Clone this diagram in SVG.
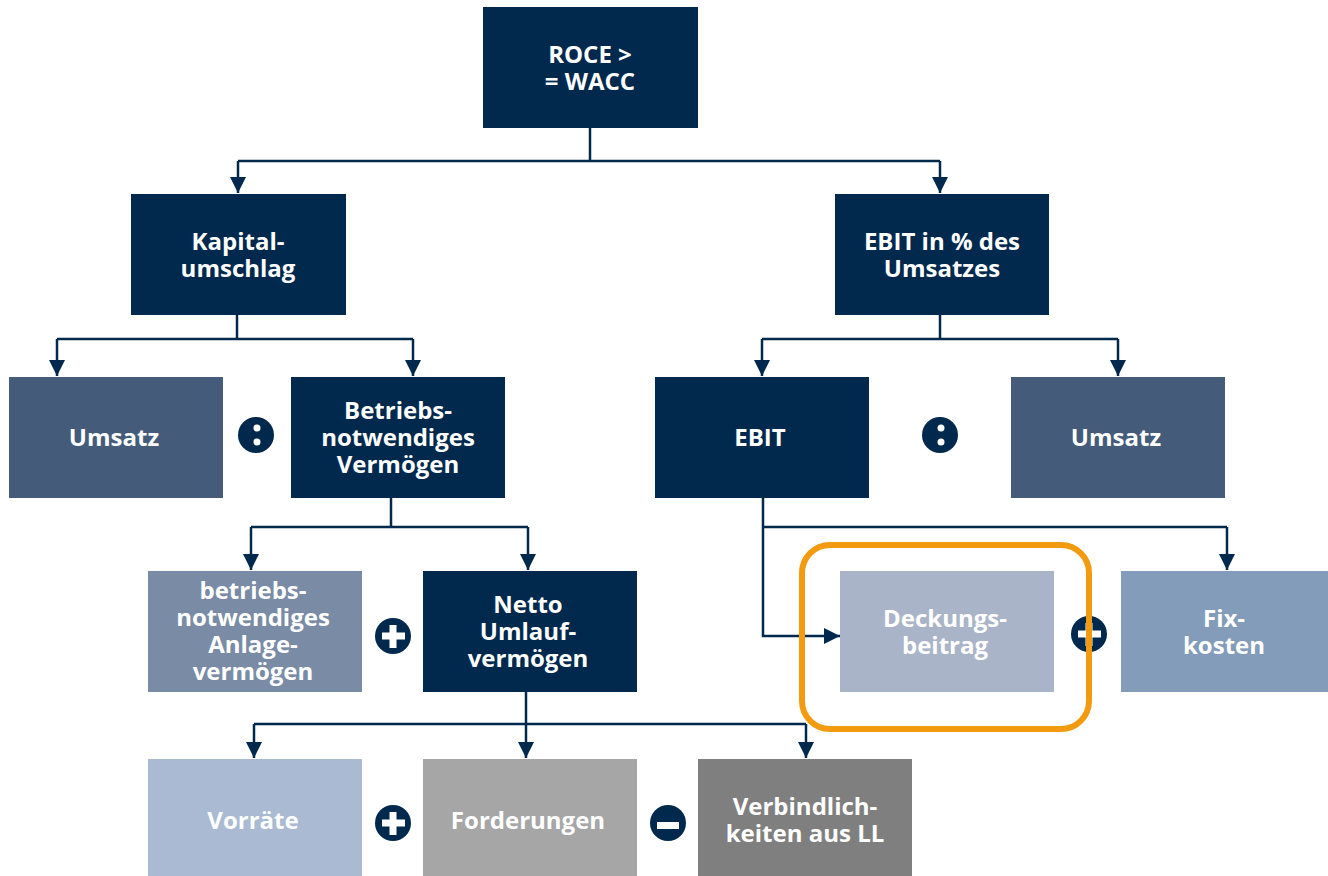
<svg xmlns="http://www.w3.org/2000/svg" width="1328" height="876" viewBox="0 0 1328 876">
<style>
.t{font-family:"Open Sans","Liberation Sans",sans-serif;font-weight:bold;font-size:24px;fill:#fff;text-anchor:middle}
.c{fill:none;stroke:#00294D;stroke-width:2.5}
.a{marker-end:url(#ah)}
.op{fill:#00294D}
.w{fill:#fff}
</style>
<defs>
<marker id="ah" markerUnits="userSpaceOnUse" markerWidth="16" markerHeight="16" refX="16" refY="8" orient="auto">
<path d="M0,0 L16,8 L0,16 z" fill="#00294D"/>
</marker>
</defs>
<rect width="1328" height="876" fill="#fff"/>
<g id="connectors">
<path class="c" d="M590,128 V161"/>
<path class="c" d="M238,161 H940"/>
<path class="c a" d="M238,161 V193"/>
<path class="c a" d="M940,161 V193"/>
<path class="c" d="M237,315 V339"/>
<path class="c" d="M57,339 H413"/>
<path class="c a" d="M57,339 V376"/>
<path class="c a" d="M413,339 V376"/>
<path class="c" d="M940,315 V339"/>
<path class="c" d="M762,339 H1118"/>
<path class="c a" d="M762,339 V376"/>
<path class="c a" d="M1118,339 V376"/>
<path class="c" d="M391,497 V527"/>
<path class="c" d="M251,527 H528"/>
<path class="c a" d="M251,527 V570"/>
<path class="c a" d="M528,527 V570"/>
<path class="c a" d="M763,497 V636 H840"/>
<path class="c" d="M763,527 H1227"/>
<path class="c a" d="M1227,527 V570"/>
<path class="c" d="M526,692 V724"/>
<path class="c" d="M254,724 H806"/>
<path class="c a" d="M254,724 V758"/>
<path class="c a" d="M526,724 V758"/>
<path class="c a" d="M806,724 V758"/>
</g>
<g id="roce"><rect x="483" y="7" width="215" height="121" fill="#00294D"/><text class="t" x="590" y="63">ROCE &gt;</text><text class="t" x="590" y="90">= WACC</text></g>
<g id="kapital"><rect x="131" y="194" width="215" height="121" fill="#00294D"/><text class="t" x="238" y="250">Kapital-</text><text class="t" x="238" y="277">umschlag</text></g>
<g id="ebitpct"><rect x="835" y="194" width="214" height="121" fill="#00294D"/><text class="t" x="942" y="250">EBIT in % des</text><text class="t" x="942" y="277">Umsatzes</text></g>
<g id="umsatz1"><rect x="9" y="377" width="214" height="121" fill="#445B7A"/><text class="t" x="114" y="446">Umsatz</text></g>
<g id="bnv"><rect x="291" y="377" width="214" height="121" fill="#00294D"/><text class="t" x="398" y="419">Betriebs-</text><text class="t" x="398" y="446">notwendiges</text><text class="t" x="398" y="473">Vermögen</text></g>
<g id="div1"><circle class="op" cx="256" cy="435" r="18"/><circle class="w" cx="257" cy="428" r="3.5"/><circle class="w" cx="257" cy="442" r="3.5"/></g>
<g id="ebit"><rect x="655" y="377" width="214" height="121" fill="#00294D"/><text class="t" x="760" y="446">EBIT</text></g>
<g id="div2"><circle class="op" cx="940" cy="435" r="18"/><circle class="w" cx="941" cy="428" r="3.5"/><circle class="w" cx="941" cy="442" r="3.5"/></g>
<g id="umsatz2"><rect x="1011" y="377" width="214" height="121" fill="#445B7A"/><text class="t" x="1116" y="446">Umsatz</text></g>
<g id="anlage"><rect x="148" y="571" width="214" height="121" fill="#7A8BA5"/><text class="t" x="253" y="599">betriebs-</text><text class="t" x="253" y="626">notwendiges</text><text class="t" x="253" y="653">Anlage-</text><text class="t" x="253" y="680">vermögen</text></g>
<g id="plus1"><circle class="op" cx="393" cy="636" r="18"/><rect class="w" x="382" y="632.5" width="23" height="7"/><rect class="w" x="389.5" y="625" width="7" height="23"/></g>
<g id="netto"><rect x="423" y="571" width="214" height="121" fill="#00294D"/><text class="t" x="528" y="613">Netto</text><text class="t" x="528" y="640">Umlauf-</text><text class="t" x="528" y="667">vermögen</text></g>
<g id="deckung"><rect x="840" y="571" width="214" height="121" fill="#A9B4C8"/><text class="t" x="945" y="627">Deckungs-</text><text class="t" x="945" y="654">beitrag</text></g>
<g id="plus2"><circle class="op" cx="1089" cy="634" r="18"/><rect class="w" x="1078" y="630.5" width="23" height="7"/><rect class="w" x="1085.5" y="623" width="7" height="23"/></g>
<g id="fix"><rect x="1121" y="571" width="207" height="121" fill="#829CBA"/><text class="t" x="1224" y="627">Fix-</text><text class="t" x="1224" y="654">kosten</text></g>
<g id="highlight"><rect x="802" y="545" width="287" height="184" rx="28" fill="none" stroke="#F29B11" stroke-width="6"/></g>
<g id="vorraete"><rect x="148" y="759" width="214" height="117" fill="#A9BAD2"/><text class="t" x="253" y="829">Vorräte</text></g>
<g id="plus3"><circle class="op" cx="393" cy="823" r="18"/><rect class="w" x="382" y="819.5" width="23" height="7"/><rect class="w" x="389.5" y="812" width="7" height="23"/></g>
<g id="forderungen"><rect x="423" y="759" width="214" height="117" fill="#A6A6A6"/><text class="t" x="528" y="829">Forderungen</text></g>
<g id="minus"><circle class="op" cx="668" cy="823" r="18"/><rect class="w" x="657" y="822" width="22" height="7"/></g>
<g id="verbindlich"><rect x="698" y="759" width="214" height="117" fill="#7F7F7F"/><text class="t" x="805" y="815">Verbindlich-</text><text class="t" x="805" y="842">keiten aus LL</text></g>
</svg>
